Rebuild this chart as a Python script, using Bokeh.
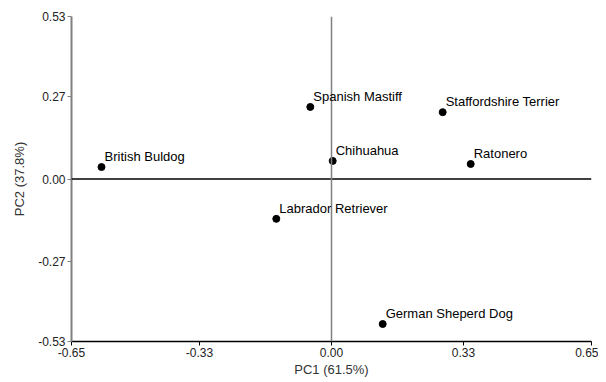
from bokeh.plotting import figure
from bokeh.models import ColumnDataSource, FixedTicker, PrintfTickFormatter, Span, LabelSet, Range1d
from bokeh.core.properties import value
from bokeh.embed import file_html
from bokeh.resources import INLINE

names = ["British Buldog", "Spanish Mastiff", "Staffordshire Terrier", "Chihuahua",
         "Ratonero", "Labrador Retriever", "German Sheperd Dog"]
pc1 = [-0.575, -0.053, 0.278, 0.003, 0.348, -0.138, 0.128]
pc2 = [0.039, 0.235, 0.218, 0.059, 0.049, -0.130, -0.473]
x_ticks = [-0.65, -0.33, 0.0, 0.33, 0.65]
y_ticks = [-0.53, -0.27, 0.0, 0.27, 0.53]

src = ColumnDataSource(dict(x=pc1, y=pc2, name=names))

p = figure(width=598, height=380, output_backend="svg", toolbar_location=None,
           x_range=Range1d(-0.65, 0.65), y_range=Range1d(-0.53, 0.53),
           min_border_left=71, min_border_right=7, min_border_top=16, min_border_bottom=39)
p.outline_line_color = None
p.xgrid.visible = False
p.ygrid.visible = False
p.background_fill_color = "white"

p.add_layout(Span(location=0, dimension="width", line_color="black", line_width=1.5))
p.add_layout(Span(location=0, dimension="height", line_color="#808080", line_width=1.5))

p.scatter("x", "y", source=src, size=7, color="black")
p.add_layout(LabelSet(x="x", y="y", text="name", source=src, x_offset=3, y_offset=3,
                      text_font=value("Liberation Sans"), text_font_size="13px",
                      text_color="black"))

for ax, ticks in ((p.xaxis, x_ticks), (p.yaxis, y_ticks)):
    ax.ticker = FixedTicker(ticks=ticks)
    ax.formatter = PrintfTickFormatter(format="%.2f")
    ax.minor_tick_line_color = None
    ax.major_tick_out = 4
    ax.major_tick_in = 0
    ax.major_label_text_font = "Liberation Sans"
    ax.major_label_text_font_size = "12px"
    ax.major_label_text_color = "#222222"
    ax.axis_label_text_font = "Liberation Sans"
    ax.axis_label_text_font_size = "13px"
    ax.axis_label_text_font_style = "normal"
    ax.axis_label_text_color = "#333333"
    ax.major_label_standoff = 2

p.xaxis.axis_label_standoff = 2
p.yaxis.axis_label_standoff = 8
p.xaxis.axis_label = "PC1 (61.5%)"
p.yaxis.axis_label = "PC2 (37.8%)"
p.xaxis.axis_line_color = "black"
p.xaxis.axis_line_width = 1.5
p.xaxis.major_tick_line_color = "black"
p.yaxis.axis_line_color = "#808080"
p.yaxis.axis_line_width = 2
p.yaxis.major_tick_line_color = "#808080"

open("out.html", "w").write(file_html(p, INLINE))
